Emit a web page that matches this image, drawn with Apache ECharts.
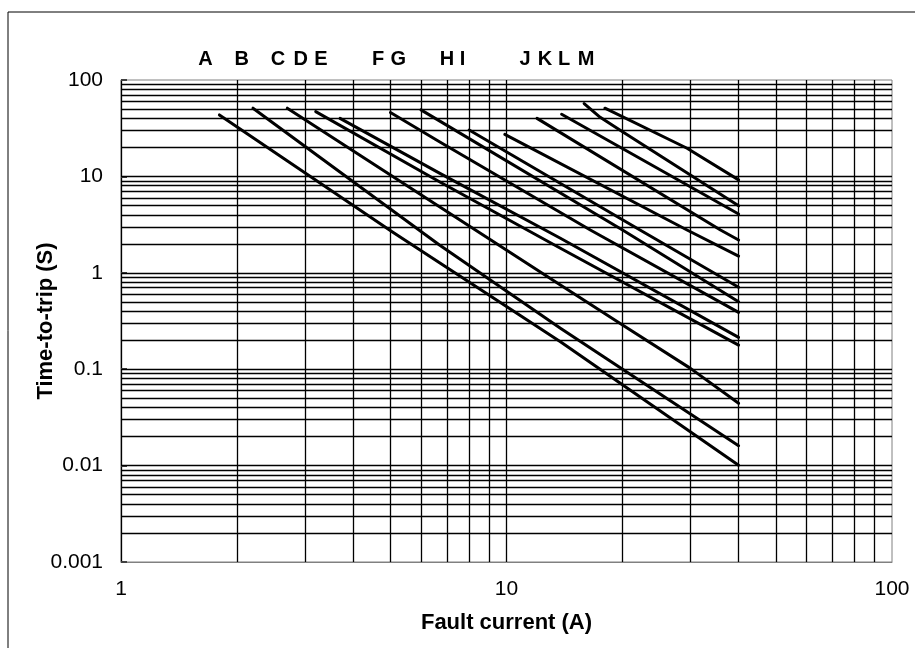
<!DOCTYPE html>
<html>
<head>
<meta charset="utf-8">
<script src="https://cdn.jsdelivr.net/npm/echarts@6/dist/echarts.min.js"></script>
<style>
html,body{margin:0;padding:0;background:#fff;}
#chart{width:915px;height:648px;}
</style>
</head>
<body>
<div id="chart"></div>
<script>
// ---- data ----
const curveNames = ['A','B','C','D','E','F','G','H','I','J','K','L','M'];
const curveA = [[1.8,43.4],[5.05,2.67],[13.8,0.193],[40,0.0101]];
const curveB = [[2.2,51],[6.7,1.94],[13.8,0.266],[40,0.0161]];
const curveC = [[2.7,51],[13.8,0.747],[20,0.287],[30,0.102],[40,0.0443]];
const curveD = [[3.2,47],[6.7,8.8],[13.8,1.8],[40,0.178]];
const curveE = [[3.7,40],[6.7,10.8],[13.8,2.28],[40,0.214]];
const curveF = [[5,46],[6.7,22.9],[16.5,2.78],[40,0.389]];
const curveG = [[6,49],[20,2.78],[40,0.5]];
const curveH = [[8,30.3],[22.2,2.78],[40,0.707]];
const curveI = [[9.9,27.3],[29.4,2.78],[40,1.49]];
const curveJ = [[12,40],[35.9,2.78],[40,2.19]];
const curveK = [[13.9,44.1],[40,4.07]];
const curveL = [[15.9,57],[17.5,41],[20,29],[40,4.95]];
const curveM = [[18,51],[29.4,19.6],[40,9.2]];
const curves = [curveA,curveB,curveC,curveD,curveE,curveF,curveG,curveH,curveI,curveJ,curveK,curveL,curveM];

const xGridValues = [2,3,4,5,6,7,8,9,10,20,30,40,50,60,70,80,90];
const yGridValues = [
  0.002,0.003,0.004,0.005,0.006,0.007,0.008,0.009,0.01,
  0.02,0.03,0.04,0.05,0.06,0.07,0.08,0.09,0.1,
  0.2,0.3,0.4,0.5,0.6,0.7,0.8,0.9,1,
  2,3,4,5,6,7,8,9,10,
  20,30,40,50,60,70,80,90
];
const topLabels = ['A','B','C','D','E','F','G','H','I','J','K','L','M'];

// ---- layout ----
const FONT = "'Liberation Sans', Arial, Helvetica, sans-serif";
const topLabelX = [205.5,241.7,278,300.8,320.8,378,398.3,447,462.5,525,545,564,586];
const topLabelY = 59;

const chart = echarts.init(document.getElementById('chart'), null, {renderer:'canvas'});

const fmt = v => String(Number(Number(v).toPrecision(6)));

const gridSeries = {
  type: 'line',
  name: 'grid',
  data: [],
  z: 1,
  silent: true,
  symbol: 'none',
  markLine: {
    silent: true,
    precision: 6,
    symbol: ['none','none'],
    animation: false,
    label: {show:false},
    emphasis: {disabled: true},
    lineStyle: {color:'#000', width:1.3, type:'solid'},
    data: xGridValues.map(v => ({xAxis: v})).concat(yGridValues.map(v => ({yAxis: v})))
  }
};

const curveSeries = curves.map((d, i) => ({
  type: 'line',
  name: curveNames[i],
  data: d,
  z: 3,
  symbol: 'none',
  showSymbol: false,
  silent: true,
  lineStyle: {color:'#000', width:3, cap:'round', join:'round'}
}));

const graphics = [{
  type: 'rect',
  shape: {x: 8, y: 12, width: 1000, height: 1000},
  style: {fill: 'none', stroke: '#000', lineWidth: 1},
  silent: true
}].concat(topLabels.map((t, i) => ({
  type: 'text',
  x: topLabelX[i],
  y: topLabelY,
  style: {text: t, font: 'bold 20px ' + FONT, fill: '#000', align: 'center', verticalAlign: 'middle'},
  silent: true
})));

chart.setOption({
  animation: false,
  backgroundColor: '#fff',
  grid: {left: 121, right: 23, top: 80, bottom: 86, show: true, borderColor: '#808080', borderWidth: 1, backgroundColor: 'transparent'},
  xAxis: {
    type: 'log', logBase: 10, min: 1, max: 100,
    name: 'Fault current (A)', nameLocation: 'middle', nameGap: 50, nameMoveOverlap: false,
    nameTextStyle: {fontFamily: FONT, fontSize: 22, fontWeight: 'bold', color: '#000'},
    axisLine: {show: true, onZero: false, lineStyle: {color: '#808080', width: 1}},
    axisTick: {show: false},
    axisLabel: {fontFamily: FONT, fontSize: 21, color: '#000', margin: 17, formatter: fmt},
    splitLine: {show: false},
    minorTick: {show: false},
    minorSplitLine: {show: false}
  },
  yAxis: {
    type: 'log', logBase: 10, min: 0.001, max: 100,
    name: 'Time-to-trip (S)', nameLocation: 'middle', nameGap: 64, nameMoveOverlap: false,
    nameTextStyle: {fontFamily: FONT, fontSize: 22, fontWeight: 'bold', color: '#000'},
    axisLine: {show: true, lineStyle: {color: '#000', width: 1.3}},
    axisTick: {show: true, inside: true, length: 6, lineStyle: {color: '#404040', width: 2}},
    axisLabel: {fontFamily: FONT, fontSize: 21, color: '#000', margin: 18, formatter: fmt},
    splitLine: {show: false},
    minorTick: {show: false},
    minorSplitLine: {show: false}
  },
  graphic: graphics,
  series: [gridSeries].concat(curveSeries)
});
</script>
</body>
</html>
